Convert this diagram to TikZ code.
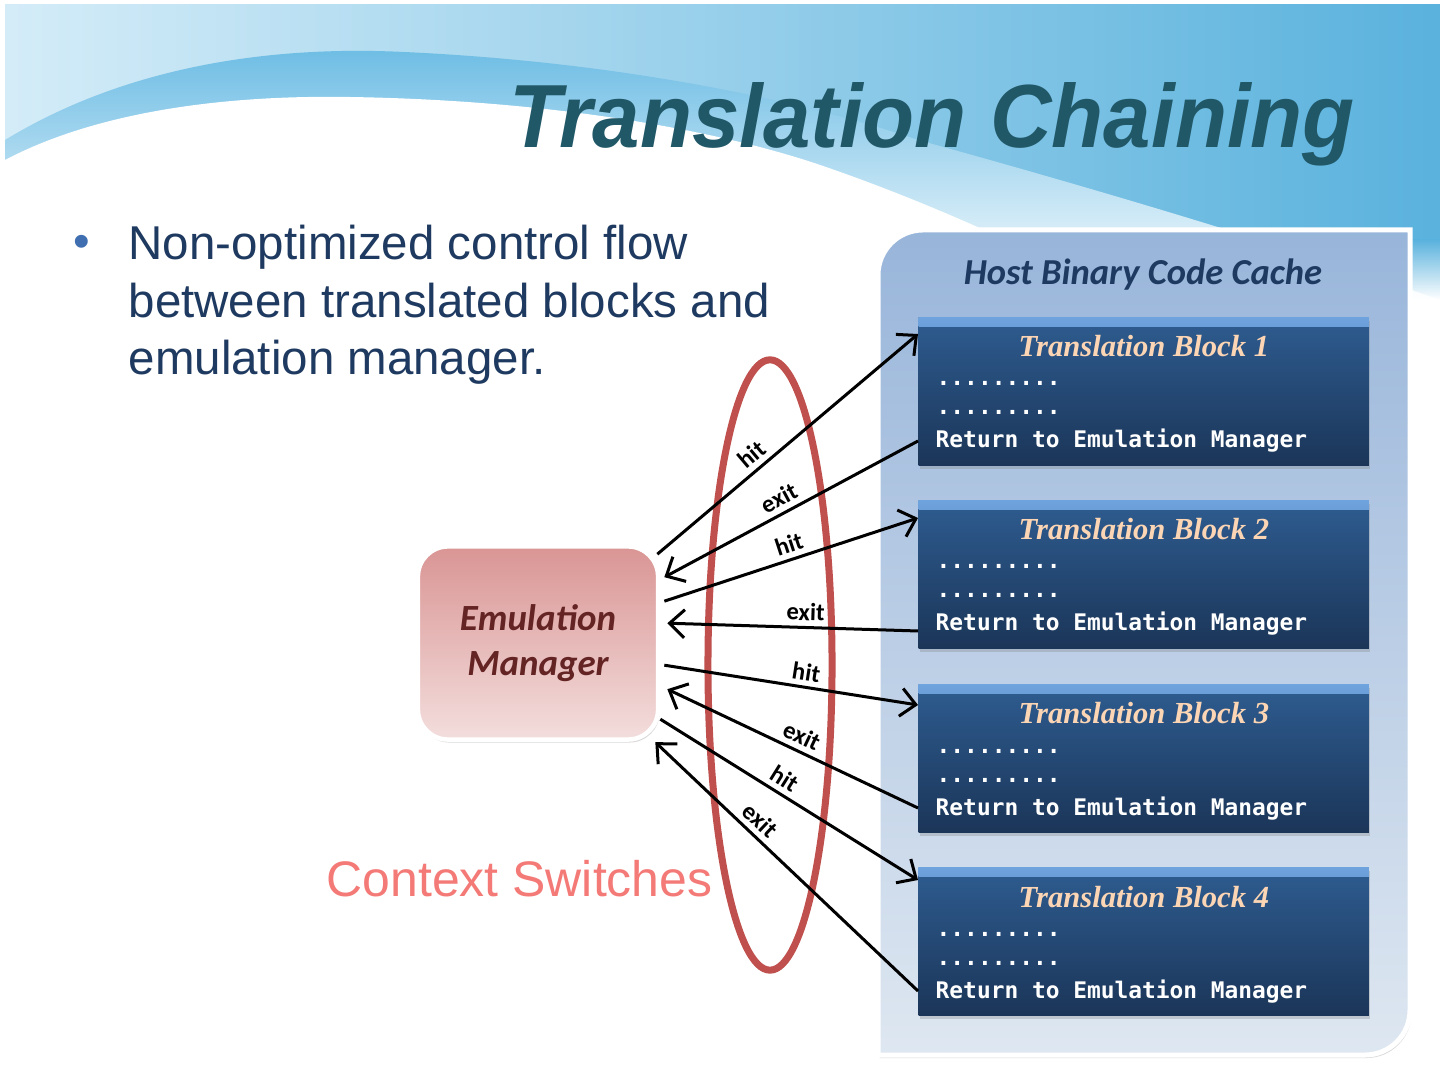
\documentclass[tikz,border=0pt]{standalone}
\usepackage{fontspec}
\setmainfont{Liberation Sans}
\newfontfamily\ttlfont[FakeStretch=0.95]{Liberation Sans}
\newfontfamily\calfont{Carlito}
\newfontfamily\blkfont{Liberation Serif}
\newfontfamily\codefont{DejaVu Sans Mono}
\usetikzlibrary{calc, arrows.meta, shadows}

\definecolor{skyl}{HTML}{D4ECF8}
\definecolor{skyr}{HTML}{5AB2DD}
\definecolor{wave}{HTML}{6CBCE4}
\definecolor{ttlcol}{HTML}{215868}
\definecolor{bodycol}{HTML}{1F3A60}
\definecolor{bulcol}{HTML}{3F6FB0}
\definecolor{cscol}{HTML}{F47A77}
\definecolor{cachetop}{HTML}{98B5DA}
\definecolor{cachebot}{HTML}{DEE7F1}
\definecolor{tbtop}{HTML}{2E5C90}
\definecolor{tbbot}{HTML}{1B3558}
\definecolor{bevel}{HTML}{6FA3DE}
\definecolor{tbttl}{HTML}{FCD5B4}
\definecolor{emtop}{HTML}{D99594}
\definecolor{embot}{HTML}{F3DEDD}
\definecolor{emtxt}{HTML}{632423}
\definecolor{ringcol}{HTML}{C0504D}

\tikzset{
	softshadow/.style={drop shadow={opacity=0.3, shadow xshift=0.015cm, shadow yshift=-0.03cm}},
	panel/.style={draw=white, line width=0.05cm, top color=cachetop, bottom color=cachebot, softshadow},
	tblock/.style={minimum width=4.5cm, minimum height=1.48cm, inner sep=0pt, top color=tbtop, bottom color=tbbot, softshadow,
		path picture={\shade[top color=bevel, bottom color=tbtop] (path picture bounding box.north west) rectangle ([yshift=-0.09cm]path picture bounding box.north east);}},
	tbtitle/.style={inner sep=0pt, text=tbttl, font=\blkfont\bfseries\itshape\fontsize{8.7}{10}\selectfont},
	code/.style={inner sep=0pt, text=white, font=\codefont\bfseries\fontsize{6.5}{8}\selectfont},
	emnode/.style={minimum width=2.4cm, minimum height=1.93cm, rounded corners=0.3cm, draw=white, line width=0.045cm,
		top color=emtop, bottom color=embot, softshadow, align=center, text=emtxt,
		font=\calfont\bfseries\itshape\fontsize{10.5}{12.8}\selectfont},
	link/.style={black, line width=0.03cm, -{Straight Barb[length=0.15cm, width=0.28cm]}},
	lbl/.style={sloped, above, inner sep=1.5pt, font=\calfont\bfseries\fontsize{7}{8}\selectfont},
	ring/.style={draw=ringcol, line width=0.07cm},
	bodytxt/.style={inner sep=0pt, anchor=base west, text=bodycol, font=\fontsize{13.5}{16.5}\selectfont}
}

\begin{document}
\begin{tikzpicture}[x=0.01cm, y=-0.01cm]
	\useasboundingbox (0,0) rectangle (1440,1080);
	
	% slide background
	\fill[white] (0,0) rectangle (1440,1080);
	\shade[left color=skyl, right color=skyr] (5,5) rectangle (1440,240);
	\shade[top color=skyr, bottom color=white] (1100,240) rectangle (1440,300);
	\shade[top color=wave, bottom color=white] (5,140) .. controls (120,70) and (260,45) .. (404,52) .. controls (620,62) and (800,100) .. (918,140) .. controls (1100,190) and (1300,250) .. (1440,300) -- (5,300) -- cycle;
	\fill[white] (5,160) .. controls (100,110) and (230,95) .. (349,97) .. controls (550,100) and (720,130) .. (826,167) .. controls (950,210) and (1050,260) .. (1130,300) -- (5,300) -- cycle;
	
	\node[anchor=base, inner sep=0pt, text=ttlcol, font=\ttlfont\bfseries\itshape\fontsize{25.5}{30}\selectfont] (ttl) at (932,148) {Translation Chaining};
	
	\node[anchor=base, inner sep=0pt, text=bulcol, font=\fontsize{13.5}{16.5}\selectfont] (bul) at (82,258) {\textbullet};
	\node[bodytxt] (pt1) at (128,260) {Non-optimized control flow};
	\node[bodytxt] (pt2) at (128,318) {between translated blocks and};
	\node[bodytxt] (pt3) at (128,375) {emulation manager.};
	
	% code cache
	\path[panel] (878,1055) -- (878,275) arc[start angle=180, end angle=90, radius=0.45cm] -- (1410,230) -- (1410,1010) arc[start angle=0, end angle=-90, radius=0.45cm] -- cycle;
	\node[anchor=base, inner sep=0pt, text=bodycol, font=\calfont\bfseries\itshape\fontsize{10.4}{12}\selectfont] (cache) at (1143,285) {Host Binary Code Cache};
	
	\foreach \n/\y in {1/317, 2/500, 3/684, 4/867} {
		\node[tblock, anchor=north west] (tb\n) at (918,\y) {};
		\node[tbtitle, anchor=base] (tb\n-t) at ($(tb\n.north)+(0,40)$) {Translation Block \n};
		\node[code, anchor=base west] (tb\n-a) at ($(tb\n.north west)+(18,69)$) {.........};
		\node[code, anchor=base west] (tb\n-b) at ($(tb\n.north west)+(18,98)$) {.........};
		\node[code, anchor=base west] (tb\n-c) at ($(tb\n.north west)+(17,131)$) {Return to Emulation Manager};
	}
	
	\node[emnode] (em) at (538,643) {Emulation\\Manager};
	
	% context switches
	\draw[ring] (770,665) ellipse [x radius=0.62cm, y radius=3.05cm];
	\node[anchor=base west, inner sep=0pt, text=cscol, font=\fontsize{14.2}{17}\selectfont] (cs) at (326,896) {Context Switches};
	
	\draw[link] ($(em.north east)+(-3,10)$) -- node[lbl, pos=0.4] (l1) {hit} ($(tb1.north west)+(0,17)$);
	\draw[link] ($(tb1.north west)+(0,124)$) -- node[lbl, pos=0.52] (l2) {exit} ($(em.north east)+(4,33)$);
	\draw[link] ($(em.north east)+(4,57)$) -- node[lbl, pos=0.51] (l3) {hit} ($(tb2.north west)+(0,18)$);
	\draw[link] ($(tb2.north west)+(0,131)$) -- node[lbl, pos=0.45] (l4) {exit} ($(em.north east)+(7,79)$);
	\draw[link] ($(em.north east)+(4,121)$) -- node[lbl, pos=0.55] (l5) {hit} ($(tb3.north west)+(0,21)$);
	\draw[link] ($(tb3.north west)+(0,124)$) -- node[lbl, pos=0.49] (l6) {exit} ($(em.north east)+(7,145)$);
	\draw[link] ($(em.north east)+(0,175)$) -- node[lbl, pos=0.45] (l7) {hit} ($(tb4.north west)+(0,13)$);
	\draw[link] ($(tb4.north west)+(0,124)$) -- node[lbl, pos=0.64] (l8) {exit} ($(em.north east)+(-5,198)$);
\end{tikzpicture}
\end{document}
